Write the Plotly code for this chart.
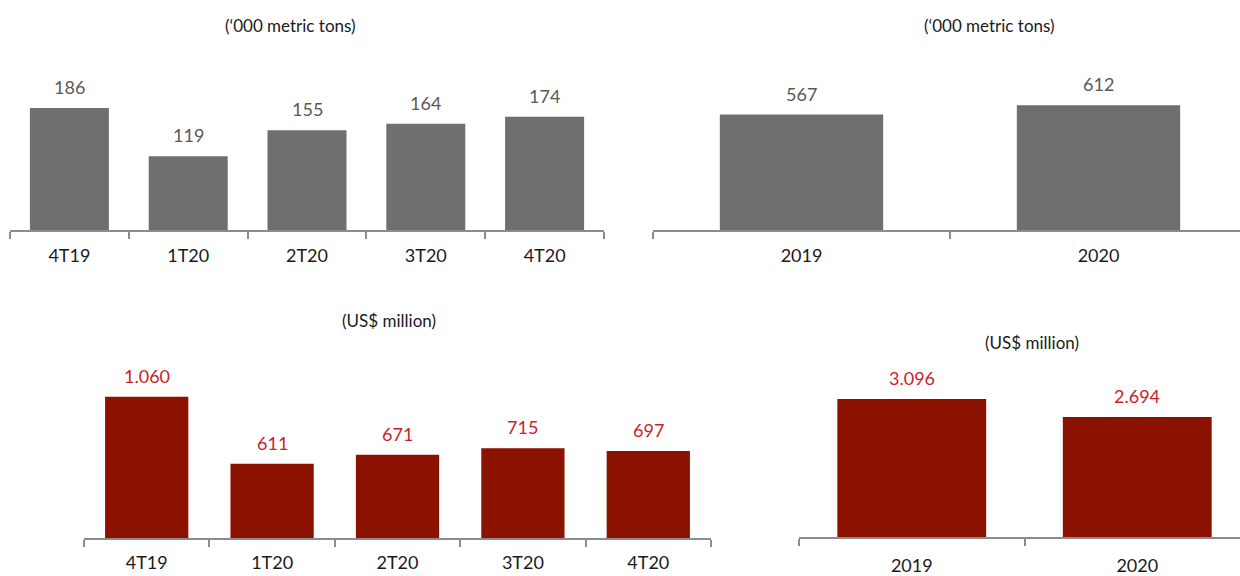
import plotly.graph_objects as go

quarters = ["4T19", "1T20", "2T20", "3T20", "4T20"]
years = ["2019", "2020"]
volume_q = [186, 119, 155, 164, 174]
volume_y = [567, 612]
revenue_q = [1060, 611, 671, 715, 697]
revenue_y = [3096, 2694]
title_vol = "(\u2018000 metric tons)"
title_rev = "(US$ million)"

GRAY = "#6f6f6f"
GRAY_TXT = "#595959"
RED = "#8c1200"
RED_TXT = "#cc2229"
FONT = "Lato"
H = 576.0
W = 1240.0

fig = go.Figure()

panels = [
    dict(cats=quarters, vals=volume_q, col=GRAY, tcol=GRAY_TXT, x0=10, x1=604, yb=234, yt=61,
         ymin=16, scale=0.731, xr=[-0.5, 4.5], width=0.665, title=title_vol, tx=290, ty=26, so=8),
    dict(cats=years, vals=volume_y, col=GRAY, tcol=GRAY_TXT, x0=653, x1=1240, yb=234, yt=61,
         ymin=0, scale=0.2075, xr=[-0.5, 1.5 - 7 / 297], width=0.55, title=title_vol, tx=989, ty=26, so=8),
    dict(cats=quarters, vals=revenue_q, col=RED, tcol=RED_TXT, x0=84, x1=711, yb=547, yt=363,
         ymin=110, scale=0.1514, xr=[-0.5, 4.5], width=0.664, title=title_rev, tx=389, ty=326, so=7),
    dict(cats=years, vals=revenue_y, col=RED, tcol=RED_TXT, x0=799, x1=1240, yb=546, yt=363,
         ymin=0, scale=0.04545, xr=[-0.5, 1.5 - 10 / 225], width=0.66, title=title_rev, tx=1032, ty=348, so=11),
]

layout = dict(
    width=1240, height=576,
    margin=dict(l=0, r=0, t=0, b=0),
    paper_bgcolor="white", plot_bgcolor="white",
    showlegend=False,
    font=dict(family=FONT, size=16, color="#262626"),
)

annotations = []
for i, p in enumerate(panels, start=1):
    xa = "x" if i == 1 else f"x{i}"
    ya = "y" if i == 1 else f"y{i}"
    fig.add_trace(go.Bar(
        x=p["cats"], y=p["vals"], marker=dict(color=p["col"], line=dict(width=0)),
        width=p["width"], xaxis=xa, yaxis=ya, hoverinfo="skip",
    ))
    ymax = p["ymin"] + (p["yb"] - p["yt"]) / p["scale"]
    layout["xaxis" if i == 1 else f"xaxis{i}"] = dict(
        domain=[p["x0"] / W, p["x1"] / W], anchor=ya, type="category",
        range=p["xr"], showline=True, linecolor="#8c8c8c", linewidth=1.5,
        ticks="outside", tickson="boundaries", ticklen=7, tickcolor="#8c8c8c", tickwidth=1.5,
        showgrid=False, zeroline=False, ticklabelstandoff=p["so"],
        tickfont=dict(family=FONT, size=18, color="#1a1a1a"), fixedrange=True,
    )
    layout["yaxis" if i == 1 else f"yaxis{i}"] = dict(
        domain=[1 - p["yb"] / H, 1 - p["yt"] / H], anchor=xa,
        range=[p["ymin"], ymax], visible=False, showgrid=False, zeroline=False, fixedrange=True,
    )
    for j, v in enumerate(p["vals"]):
        annotations.append(dict(
            x=j, y=v, xref=xa, yref=ya, text=f"{v:,}".replace(",", "."),
            showarrow=False, yshift=21, yanchor="middle",
            font=dict(family=FONT, size=18, color=p["tcol"]),
        ))
    annotations.append(dict(
        x=p["tx"] / W, y=1 - p["ty"] / H, xref="paper", yref="paper", text=p["title"],
        showarrow=False, xanchor="center", yanchor="middle",
        font=dict(family=FONT, size=17, color="#1a1a1a"),
    ))

layout["annotations"] = annotations
fig.update_layout(**layout)
fig.write_html("out.html")
